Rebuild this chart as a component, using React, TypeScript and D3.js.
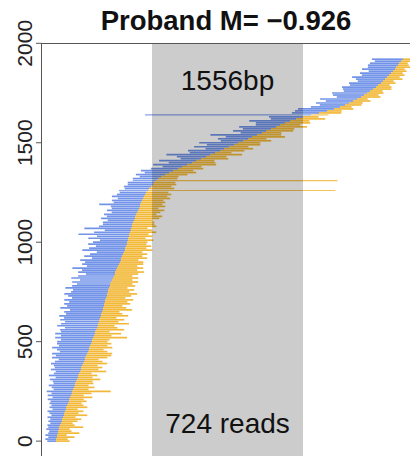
import React from 'react';
import * as d3 from 'd3';

const W = 410;
const H = 456;

const titleText = 'Proband M= \u22120.926';
const regionLabel = '1556bp';
const readsLabel = '724 reads';
const regionStart = 1144; // bp
const regionEnd = 2700; // bp (1556 bp wide)
const xDomain = [0, 3900];
const yDomain = [-100, 2000];
const yTicks = [0, 500, 1000, 1500, 2000];
const ROW_STEP = 10;

// junction (blue -> gold) position of each read, bp
const readBreak = [
  155, 155, 165, 165, 175, 175, 185, 185, 196, 206,
  216, 216, 227, 237, 237, 247, 258, 258, 268, 278,
  289, 289, 299, 309, 319, 319, 330, 340, 350, 350,
  361, 371, 381, 381, 392, 402, 412, 412, 423, 433,
  443, 453, 453, 464, 474, 484, 495, 495, 505, 515,
  526, 526, 536, 546, 556, 556, 567, 577, 587, 587,
  598, 598, 608, 618, 618, 629, 639, 639, 649, 649,
  660, 660, 670, 680, 680, 690, 690, 701, 711, 711,
  721, 732, 742, 752, 763, 763, 773, 783, 793, 804,
  814, 824, 824, 835, 845, 855, 866, 866, 876, 886,
  886, 897, 897, 907, 907, 917, 927, 927, 938, 938,
  948, 958, 969, 969, 979, 989, 1000, 1010, 1020, 1020,
  1030, 1041, 1051, 1061, 1072, 1082, 1103, 1113, 1134, 1154,
  1164, 1185, 1206, 1237, 1278, 1319, 1360, 1412, 1453, 1505,
  1556, 1597, 1649, 1700, 1742, 1793, 1845, 1886, 1937, 1989,
  2030, 2082, 2133, 2174, 2226, 2277, 2319, 2370, 2422, 2463,
  2514, 2566, 2628, 2700, 2782, 2865, 2947, 3019, 3081, 3133,
  3174, 3215, 3256, 3298, 3329, 3359, 3390, 3421, 3452, 3473,
  3504, 3524, 3545, 3566, 3586, 3607, 3627, 3648, 3658, 3679,
  3689, 3710, 3730,
];

// length of the blue (left) part of each read, bp
const blueLen = [
  90, 110, 90, 120, 100, 90, 130, 110, 130, 110,
  140, 120, 160, 130, 150, 180, 140, 170, 160, 190,
  190, 220, 180, 240, 210, 260, 200, 230, 270, 220,
  240, 280, 230, 300, 260, 250, 310, 270, 290, 330,
  300, 270, 340, 310, 360, 290, 330, 380, 320, 350,
  360, 320, 390, 340, 410, 350, 370, 330, 420, 380,
  350, 400, 370, 430, 360, 390, 340, 440, 380, 410,
  370, 420, 350, 400, 440, 380, 360, 450, 390, 340,
  400, 330, 430, 370, 300, 380, 350, 460, 320, 380,
  360, 420, 300, 390, 340, 280, 440, 370, 310, 400,
  350, 290, 410, 330, 520, 370, 270, 480, 340, 300,
  310, 270, 350, 290, 330, 260, 320, 280, 300, 420,
  280, 310, 260, 330, 290, 270, 300, 250, 280, 260,
  270, 240, 260, 220, 300, 250, 330, 280, 200, 350,
  240, 380, 210, 300, 450, 260, 330, 190, 360, 280,
  400, 230, 310, 270, 480, 220, 340, 290, 380, 250,
  300, 420, 260, 350, 1710, 280, 330, 370, 300, 260,
  340, 280, 380, 250, 320, 360, 270, 310, 350, 290,
  330, 260, 300, 360, 280, 320, 250, 340, 290, 310,
  300, 270, 320,
];

// length of the gold (right) part of each read, bp
const goldLen = [
  140, 120, 180, 100, 220, 140, 110, 250, 150, 120,
  160, 200, 130, 240, 150, 190, 120, 220, 170, 140,
  180, 150, 230, 130, 200, 400, 160, 210, 140, 190,
  170, 240, 150, 200, 130, 270, 180, 220, 160, 250,
  190, 140, 230, 260, 260, 200, 150, 240, 180, 210,
  160, 180, 350, 180, 270, 150, 290, 210, 170, 320,
  200, 260, 170, 280, 220, 180, 300, 240, 190, 270,
  230, 290, 200, 250, 310, 220, 270, 190, 260, 230,
  280, 210, 260, 190, 240, 300, 220, 270, 200, 250,
  240, 180, 270, 210, 250, 190, 280, 220, 260, 200,
  210, 260, 180, 240, 200, 270, 220, 170, 250, 230,
  220, 190, 250, 280, 210, 240, 270, 200, 260, 230,
  250, 220, 280, 240, 270, 230, 1930, 260, 210, 240,
  220, 1870, 200, 180, 230, 280, 210, 260, 200, 300,
  240, 190, 280, 210, 330, 170, 250, 300, 200, 270,
  230, 290, 190, 340, 250, 200, 280, 240, 320, 210,
  260, 200, 300, 160, 180, 230, 150, 200, 120, 170,
  140, 180, 110, 200, 150, 170, 130, 190, 160, 120,
  150, 110, 180, 130, 160, 120, 140, 100, 150, 110,
  90, 120, 80,
];

const BLUE = '#6b8ee7';
const GOLD = '#f2b52e';
const FONT = 'Liberation Sans, Arial, Helvetica, sans-serif';

export default function App() {
  const x = d3
    .scaleLinear()
    .domain(xDomain)
    .range([41, 41 + (xDomain[1] - xDomain[0]) * (151 / 1556)]);
  const y = d3.scaleLinear().domain(yDomain).range([461, 43.3]);
  const rowH = Math.abs(y(0) - y(ROW_STEP));
  const [px0, px1] = x.range();
  const [py0, py1] = y.range();

  return (
    <svg
      width={W}
      height={H}
      style={{ position: 'absolute', left: 0, top: 0, background: '#fff' }}
      fontFamily={FONT}
    >
      <defs>
        <clipPath id="plotClip">
          <rect x={px0} y={py1} width={px1 - px0} height={py0 - py1} />
        </clipPath>
      </defs>
      <g clipPath="url(#plotClip)">
        {readBreak.map((b, i) => {
          const yy = y(i * ROW_STEP);
          const long = goldLen[i] > 1000 || blueLen[i] > 1000;
          return (
            <g key={i} opacity={long ? 0.8 : 0.95}>
              <line
                x1={x(b - blueLen[i])}
                x2={x(b)}
                y1={yy}
                y2={yy}
                stroke={BLUE}
                strokeWidth={long ? rowH * 0.6 : rowH * 0.85}
              />
              <line
                x1={x(b)}
                x2={x(b + goldLen[i])}
                y1={yy}
                y2={yy}
                stroke={GOLD}
                strokeWidth={long ? rowH * 0.6 : rowH * 0.85}
              />
            </g>
          );
        })}
        <rect
          x={x(regionStart)}
          y={py1}
          width={x(regionEnd) - x(regionStart)}
          height={py0 - py1}
          fill="#000"
          fillOpacity={0.2}
        />
      </g>
      {/* frame */}
      <line x1={px0 + 0.5} x2={px0 + 0.5} y1={py1} y2={py0} stroke="#555" strokeWidth={1} />
      <line x1={px0} x2={px1} y1={py1 + 0.2} y2={py1 + 0.2} stroke="#555" strokeWidth={1} />
      {/* y ticks */}
      {yTicks.map((t) => (
        <g key={t}>
          <line x1={px0 - 5} x2={px0 + 0.5} y1={y(t)} y2={y(t)} stroke="#555" strokeWidth={1} />
          <text
            transform={`translate(32, ${y(t)}) rotate(-90)`}
            textAnchor="middle"
            fontSize={21}
            fill="#222"
          >
            {t}
          </text>
        </g>
      ))}
      <text
        x={(x(regionStart) + x(regionEnd)) / 2}
        y={90}
        textAnchor="middle"
        fontSize={28}
        fill="#111"
      >
        {regionLabel}
      </text>
      <text
        x={(x(regionStart) + x(regionEnd)) / 2}
        y={433}
        textAnchor="middle"
        fontSize={28}
        fill="#111"
      >
        {readsLabel}
      </text>
      <text x={226} y={30} textAnchor="middle" fontSize={27.5} fontWeight="bold" fill="#111">
        {titleText}
      </text>
    </svg>
  );
}
